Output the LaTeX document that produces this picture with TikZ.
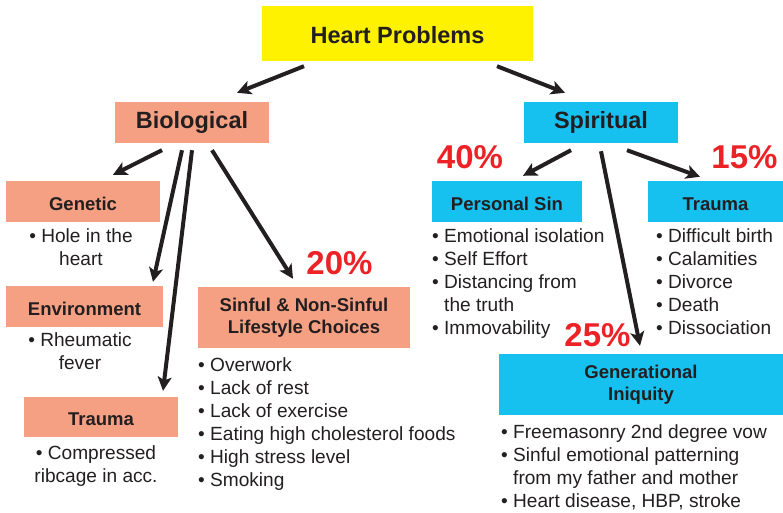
\documentclass[tikz,border=0pt]{standalone}
\usepackage{fontspec}
\setmainfont{Liberation Sans}
\usetikzlibrary{arrows.meta}
\definecolor{topyellow}{HTML}{FFF200}
\definecolor{salmon}{HTML}{F5A083}
\definecolor{skyblue}{HTML}{16C1F0}
\definecolor{inkdark}{HTML}{231F20}
\definecolor{pctred}{HTML}{EC2227}
\tikzset{
  box/.style={rectangle, inner sep=0pt, align=center, text=inkdark,
    font=\bfseries\fontsize{18.5}{22}\selectfont},
  oneline/.style={text height=17pt, text depth=0pt},
  bio/.style={box, fill=salmon},
  spi/.style={box, fill=skyblue},
  items/.style={inner sep=0pt, text=inkdark, font=\fontsize{19.1}{23}\selectfont},
  pct/.style={inner sep=0pt, text=pctred, font=\bfseries\fontsize{33}{36}\selectfont},
  arr/.style={draw=inkdark, line width=4pt,
    -{Stealth[length=14pt,width=14pt,inset=3.5pt]}},
}
\begin{document}
\begin{tikzpicture}[x=1pt,y=-1pt]
\useasboundingbox (0,0) rectangle (783,513);

% top level
\node[box, fill=topyellow, minimum width=271pt, minimum height=55pt,
  text height=21pt, text depth=0pt,
  font=\bfseries\fontsize{23.5}{26}\selectfont] (heart) at (397.5,33.5) {Heart Problems};
\node[bio, minimum width=154pt, minimum height=41pt,
  font=\bfseries\fontsize{23.5}{26}\selectfont] (biol) at (192,122.5) {Biological};
\node[spi, minimum width=154pt, minimum height=41pt,
  font=\bfseries\fontsize{23.5}{26}\selectfont] (spir) at (601,122.5) {Spiritual};

% biological branch
\node[bio, oneline, minimum width=154pt, minimum height=41pt] (genetic) at (83,201.5) {Genetic};
\node[bio, oneline, minimum width=157pt, minimum height=41pt] (environ) at (84.5,306.5) {Environment};
\node[bio, oneline, minimum width=154pt, minimum height=40pt] (btrauma) at (101,417) {Trauma};
\node[bio, minimum width=212pt, minimum height=61pt] (lifestyle) at (304,317.5)
  {Sinful \& Non-Sinful\\Lifestyle Choices};

% spiritual branch
\node[spi, oneline, minimum width=150pt, minimum height=41pt] (psin) at (507,201.5) {Personal Sin};
\node[spi, oneline, minimum width=135pt, minimum height=41pt] (strauma) at (715.5,201.5) {Trauma};
\node[spi, minimum width=284pt, minimum height=61pt] (geniq) at (641,384.5)
  {Generational\\Iniquity};

% percentages
\node[pct] (p40) at (470,157) {40\%};
\node[pct] (p15) at (744.5,157) {15\%};
\node[pct] (p20) at (339.5,263) {20\%};
\node[pct] (p25) at (597.5,335) {25\%};

% bullet lists
\node[items, align=center, anchor=north] (genlist) at (81,228.5)
  {• Hole in the\\heart};
\node[items, align=center, anchor=north] (envlist) at (80,332.5)
  {• Rheumatic\\fever};
\node[items, align=center, anchor=north] (btlist) at (96,445.5)
  {• Compressed\\ribcage in acc.};
\node[items, align=left, anchor=north west] (lslist) at (198,357.5)
  {• Overwork\\• Lack of rest\\• Lack of exercise\\• Eating high cholesterol foods\\• High stress level\\• Smoking};
\node[items, align=left, anchor=north west] (pslist) at (432,228.5)
  {• Emotional isolation\\• Self Effort\\• Distancing from\\\phantom{• }the truth\\• Immovability};
\node[items, align=left, anchor=north west] (stlist) at (656,228.5)
  {• Difficult birth\\• Calamities\\• Divorce\\• Death\\• Dissociation};
\node[items, align=left, anchor=north west] (gilist) at (501,424.5)
  {• Freemasonry 2nd degree vow\\• Sinful emotional patterning\\\phantom{• }from my father and mother\\• Heart disease, HBP, stroke};

% connectors
\draw[arr] ([shift={(-93.5,5)}]heart.south) -- ([shift={(45,-9)}]biol.north);
\draw[arr] ([shift={(99.5,5)}]heart.south) -- ([shift={(-36,-9)}]spir.north);

\draw[arr] ([shift={(-30,7)}]biol.south) -- ([shift={(30,-6)}]genetic.north);
\draw[arr] ([shift={(-10,7)}]biol.south) -- ([shift={(68.5,-4)}]environ.north);
\draw[arr] ([shift={(0,7)}]biol.south) -- ([shift={(62,-6)}]btrauma.north);
\draw[arr] ([shift={(20,7)}]biol.south) -- ([shift={(-11,-8)}]lifestyle.north);

\draw[arr] ([shift={(-30,7)}]spir.south) -- ([shift={(16,-5)}]psin.north);
\draw[arr] ([shift={(26,7)}]spir.south) -- ([shift={(-15.5,-4)}]strauma.north);
\draw[arr] ([shift={(0,8)}]spir.south) -- ([shift={(-1,-8)}]geniq.north);
\end{tikzpicture}
\end{document}
